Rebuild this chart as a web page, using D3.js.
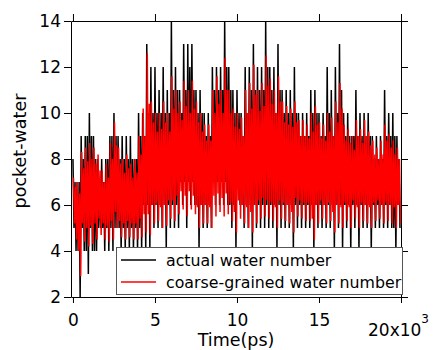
<!DOCTYPE html>
<html>
<head>
<meta charset="utf-8">
<script src="https://cdn.jsdelivr.net/npm/d3@7"></script>
<style>
  body { margin: 0; background: #fff; }
  svg { display: block; }
  text { font-family: "DejaVu Sans", sans-serif; fill: #000; }
</style>
</head>
<body>
<svg width="434" height="350"></svg>
<script>
// bin width in ps; each bin gives four samples: high, core low, core high, low
var binPs = 250;

// actual water number
var blackHi = [8,7,9,9,10,9,8,8,8,9, 10,9,9,9,9,8,10,10,13,12,
               12,11,12,11,14,12,11,13,13,13, 11,11,10,10,12,12,12,14,12,11,
               11,10,12,12,13,12,12,14,12,12, 13,11,11,11,12,10,10,10,11,11,
               10,10,12,11,12,13,10,10,9,11, 10,10,10,9,9,9,11,10,10,9];
var blackLo = [4,2,4,3,4,4,5,4,4,4, 5,4,4,4,4,4,4,4,4,5,
               5,5,4,5,5,5,6,5,6,6, 4,5,5,5,6,6,6,6,5,4,
               6,5,5,4,5,5,5,5,5,4, 5,5,5,4,5,5,5,5,4,5,
               5,5,5,4,5,4,5,4,5,4, 5,5,4,5,5,5,5,5,4,5];
var blackCoreHi = [7,7,8,9,9,8,7,7,8,9, 9,8,8,8,8,8,9,9,10,10,
                   10,10,10,10,11,11,10,11,12,11, 10,10,9,9,11,11,11,12,11,10,
                   10,9,10,11,11,11,11,12,11,10, 11,10,10,10,10,9,9,9,10,10,
                   9,9,10,9,10,11,9,9,9,9, 9,9,9,8,8,8,9,9,9,8];
var blackCoreLo = [5,4,5,4,5,4,5,5,5,5, 5,5,5,5,5,5,5,6,6,6,
                   6,6,6,6,6,6,7,7,7,7, 6,6,6,6,7,7,7,7,6,6,
                   7,6,6,6,6,6,6,6,6,6, 6,6,6,6,6,6,6,6,6,6,
                   6,6,6,6,6,6,6,6,6,6, 6,6,6,6,6,6,6,6,5,6];

// coarse-grained water number
var redHi = [7.2,7.0,8.3,8.5,8.7,8.5,8.2,7.5,7.8,8.7, 9.6,8.5,8.0,8.2,7.8,8.0,9.0,10.2,12.6,10.5,
             10.0,10.0,10.5,10.0,11.6,11.0,10.5,11.4,11.0,11.4, 10.5,10.0,9.5,9.5,11.0,11.6,11.0,12.4,11.0,10.2,
             10.0,9.8,11.0,11.3,12.1,11.0,11.3,12.5,11.5,11.0, 11.6,10.5,10.3,10.2,10.5,9.7,9.7,9.5,10.0,10.3,
             9.6,9.5,10.0,9.8,10.5,11.3,9.5,9.3,9.0,9.7, 9.3,9.7,9.2,8.8,8.5,8.8,9.5,9.1,8.8,8.5];
var redLo = [4.5,2.9,4.4,4.2,4.3,4.5,4.7,4.5,4.4,4.5, 5.0,4.6,4.5,4.6,4.5,4.5,4.6,4.8,4.7,5.2,
             5.3,5.0,5.1,5.4,5.3,5.6,5.8,5.5,5.8,5.6, 5.0,5.2,5.2,5.0,5.5,5.7,5.5,5.6,5.3,4.8,
             5.4,5.2,5.0,4.8,5.2,5.4,5.5,5.4,5.3,5.0, 5.4,5.3,5.2,4.8,5.5,5.4,5.3,5.3,4.5,5.2,
             5.4,5.2,5.3,4.8,5.2,5.0,5.3,5.0,5.4,5.0, 5.3,5.2,5.0,5.3,5.4,5.2,5.3,5.2,5.0,5.2];
var redCoreHi = [6.8,6.5,7.6,7.9,8.0,7.8,7.5,7.0,7.2,8.0, 8.6,7.8,7.4,7.6,7.2,7.4,8.2,9.0,10.4,9.6,
                 9.2,9.3,9.6,9.2,10.2,10.0,9.7,10.3,10.0,10.2, 9.6,9.2,8.8,8.8,10.0,10.4,10.0,11.0,10.0,9.4,
                 9.3,9.0,10.0,10.2,10.8,10.1,10.3,11.2,10.4,10.0, 10.5,9.6,9.5,9.4,9.6,9.0,9.0,8.9,9.2,9.5,
                 8.9,8.8,9.2,9.0,9.6,10.2,8.8,8.7,8.4,9.0, 8.7,9.0,8.6,8.2,8.0,8.2,8.8,8.5,8.2,8.0];
var redCoreLo = [5.2,4.0,5.2,5.0,5.1,5.2,5.4,5.2,5.1,5.3, 5.7,5.3,5.2,5.3,5.2,5.2,5.4,5.6,5.6,6.0,
                 6.1,5.9,6.0,6.2,6.2,6.4,6.6,6.4,6.6,6.4, 5.9,6.0,6.0,5.9,6.4,6.5,6.3,6.5,6.1,5.7,
                 6.2,6.0,5.9,5.7,6.0,6.2,6.3,6.2,6.1,5.9, 6.2,6.1,6.0,5.7,6.3,6.2,6.1,6.1,5.4,6.0,
                 6.2,6.0,6.1,5.7,6.0,5.9,6.1,5.9,6.2,5.9, 6.1,6.0,5.9,6.1,6.2,6.0,6.1,6.0,5.9,6.0];

var xTicks = [0, 5000, 10000, 15000, 20000];
var xTickLabels = ["0", "5", "10", "15", ""];
var yTicks = [2, 4, 6, 8, 10, 12, 14];
var seriesNames = ["actual water number", "coarse-grained water number"];
var seriesColors = ["#000000", "#ff0000"];

function toPoints(hi, cLo, cHi, lo, offset) {
  var pts = [], q = binPs / 4;
  hi.forEach(function(h, i) {
    var t0 = i * binPs + offset;
    pts.push({t: t0, v: h});
    pts.push({t: t0 + q, v: cLo[i]});
    pts.push({t: t0 + 2 * q, v: cHi[i]});
    pts.push({t: t0 + 3 * q, v: lo[i]});
  });
  return pts;
}

var blackData = toPoints(blackHi, blackCoreLo, blackCoreHi, blackLo, 0);
var redData = toPoints(redHi, redCoreLo, redCoreHi, redLo, 31);

var svg = d3.select("svg");
svg.append("rect").attr("width", 434).attr("height", 350).attr("fill", "#fff");

var x = d3.scaleLinear().domain([-120, 20000]).range([71, 401]);
var y = d3.scaleLinear().domain([2, 14]).range([297, 21]);

svg.append("clipPath").attr("id", "plot")
  .append("rect").attr("x", 71).attr("y", 21).attr("width", 330).attr("height", 276);

var line = d3.line()
  .x(function(d) { return x(d.t); })
  .y(function(d) { return y(d.v); });

var g = svg.append("g").attr("clip-path", "url(#plot)");
g.append("path").datum(blackData)
  .attr("fill", "none").attr("stroke", seriesColors[0]).attr("stroke-width", 1.5)
  .attr("d", line);
g.append("path").datum(redData)
  .attr("fill", "none").attr("stroke", seriesColors[1]).attr("stroke-width", 1.5)
  .attr("d", line);

// axes (box with mirror ticks)
var axLeft = svg.append("g").attr("transform", "translate(71,0)")
  .call(d3.axisLeft(y).tickValues(yTicks).tickSize(7).tickSizeOuter(0).tickPadding(3));
var axRight = svg.append("g").attr("transform", "translate(401,0)")
  .call(d3.axisRight(y).tickValues(yTicks).tickSize(7).tickSizeOuter(0).tickFormat(""));
var axTop = svg.append("g").attr("transform", "translate(0,21)")
  .call(d3.axisTop(x).tickValues(xTicks).tickSize(7).tickSizeOuter(0).tickFormat(""));
var axBottom = svg.append("g").attr("transform", "translate(0,297)")
  .call(d3.axisBottom(x).tickValues(xTicks).tickSize(6).tickSizeOuter(0).tickPadding(11)
    .tickFormat(function(d, i) { return xTickLabels[i]; }));

[axLeft, axRight, axTop, axBottom].forEach(function(a) {
  a.selectAll("path, line").attr("stroke", "#000").attr("stroke-width", 1);
  a.selectAll("text").attr("font-size", 17).attr("font-family", "DejaVu Sans").attr("fill", "#000");
});

var last = svg.append("text").attr("x", 368).attr("y", 335.5).attr("font-size", 17);
last.append("tspan").text("20x10");
last.append("tspan").attr("font-size", 12).attr("dy", -13).text("3");

svg.append("text").attr("x", 236).attr("y", 346).attr("text-anchor", "middle")
  .attr("font-size", 17.5).text("Time(ps)");
svg.append("text").attr("transform", "translate(26,151) rotate(-90)")
  .attr("text-anchor", "middle").attr("font-size", 17.5).text("pocket-water");

// legend
var lg = svg.append("g");
lg.append("rect").attr("x", 116.5).attr("y", 247.5).attr("width", 286).attr("height", 47)
  .attr("fill", "#fff").attr("stroke", "#555").attr("stroke-width", 1);
seriesNames.forEach(function(name, i) {
  var yy = 260 + i * 22;
  lg.append("line").attr("x1", 121).attr("x2", 156).attr("y1", yy).attr("y2", yy)
    .attr("stroke", seriesColors[i]).attr("stroke-width", 1.5);
  lg.append("text").attr("x", 166).attr("y", yy + 6).attr("font-size", 15.8).text(name);
});
</script>
</body>
</html>
